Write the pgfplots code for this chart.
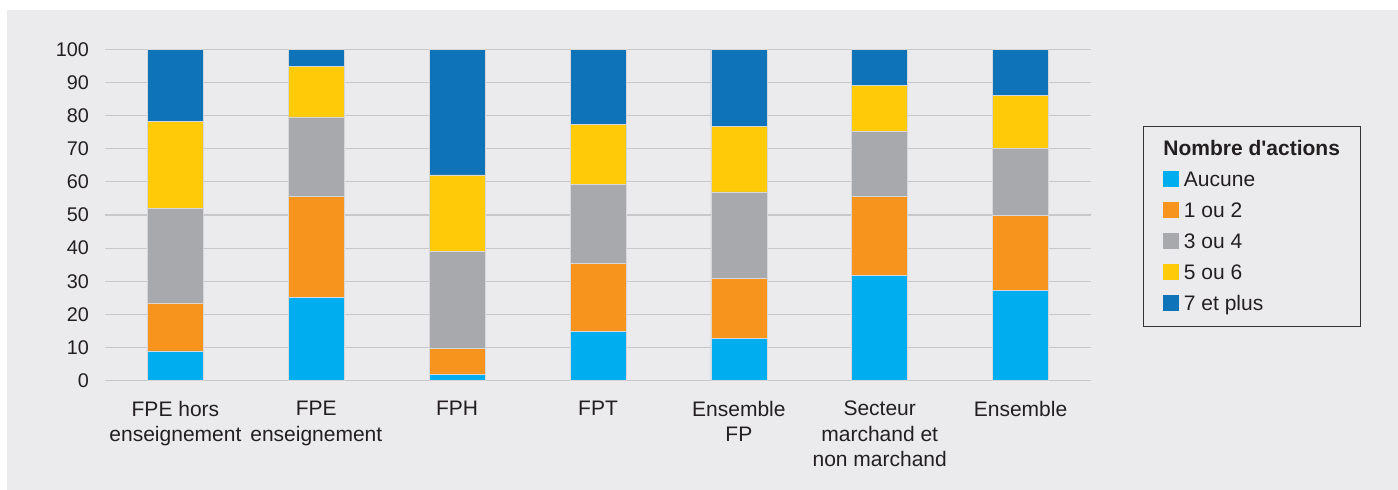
\documentclass[border=0pt]{standalone}
\usepackage{pgfplots}
\pgfplotsset{compat=1.18}
\usepackage{fontspec}
\setmainfont{Liberation Sans}
\definecolor{cA}{RGB}{0,174,239}
\definecolor{cB}{RGB}{247,148,29}
\definecolor{cC}{RGB}{167,169,172}
\definecolor{cD}{RGB}{255,203,8}
\definecolor{cE}{RGB}{15,115,186}
\definecolor{panel}{RGB}{235,235,237}
\definecolor{gridc}{RGB}{200,200,203}
\definecolor{txt}{RGB}{35,31,32}
\definecolor{edge}{RGB}{215,215,218}
\begin{document}
\begin{tikzpicture}
\fill[white] (0bp,0bp) rectangle (1398bp,490bp);
\fill[panel] (7bp,0bp) rectangle (1398bp,480bp);
\begin{axis}[
  at={(105bp,109.3bp)}, anchor=south west,
  scale only axis, width=986bp, height=331.4bp,
  ybar stacked, bar width=56bp,
  xmin=-0.5, xmax=6.5, ymin=0, ymax=100,
  xtick={0,1,2,3,4,5,6},
  xticklabels={{FPE hors\\enseignement},{FPE\\enseignement},{FPH},{FPT},{Ensemble\\FP},{Secteur\\marchand et\\non marchand},{Ensemble}},
  ytick={0,10,...,100},
  axis line style={draw=none},
  major tick length=0pt,
  ymajorgrids, grid style={draw=gridc, line width=1.1bp},
  /pgf/number format/assume math mode=true,
  tick label style={text=txt, inner sep=0pt},
  xticklabel style={font=\fontsize{21bp}{25.7bp}\selectfont, align=center, anchor=north, yshift=-20bp},
  yticklabel style={font=\fontsize{19.8bp}{24bp}\selectfont, anchor=east, xshift=-16bp},
  legend image code/.code={\fill[#1,draw=none] (0bp,-7.25bp) rectangle (15.5bp,8.25bp);},
  legend cell align=left,
  legend style={at={(1.0527,0.7695)}, anchor=north west,
    draw={rgb,255:red,51;green,51;blue,51}, line width=1bp, fill=none,
    inner xsep=20bp, inner ysep=13.5bp, row sep=13bp, column sep=5bp,
    font=\fontsize{21bp}{25bp}\selectfont, text=txt,
    nodes={inner sep=0pt, text height=16bp, text depth=2bp}},
  every axis plot/.append style={draw=edge, line width=0.6bp},
]
\addlegendimage{empty legend}
\addlegendentry{\hspace*{-20.5bp}\textbf{Nombre d\textquotesingle actions}}
\addplot[fill=cA] coordinates {(0,9.0) (1,25.1) (2,1.8) (3,14.8) (4,12.7) (5,31.7) (6,27.2)};
\addlegendentry{Aucune}
\addplot[fill=cB] coordinates {(0,14.5) (1,30.4) (2,8.0) (3,20.5) (4,18.1) (5,23.8) (6,22.6)};
\addlegendentry{1 ou 2}
\addplot[fill=cC] coordinates {(0,28.4) (1,24.1) (2,29.1) (3,24.0) (4,26.2) (5,19.7) (6,20.3)};
\addlegendentry{3 ou 4}
\addplot[fill=cD] coordinates {(0,26.3) (1,15.3) (2,23.2) (3,18.1) (4,19.7) (5,13.9) (6,16.0)};
\addlegendentry{5 ou 6}
\addplot[fill=cE] coordinates {(0,21.8) (1,5.1) (2,37.9) (3,22.6) (4,23.3) (5,10.9) (6,13.9)};
\addlegendentry{7 et plus}
\end{axis}
\end{tikzpicture}
\end{document}
